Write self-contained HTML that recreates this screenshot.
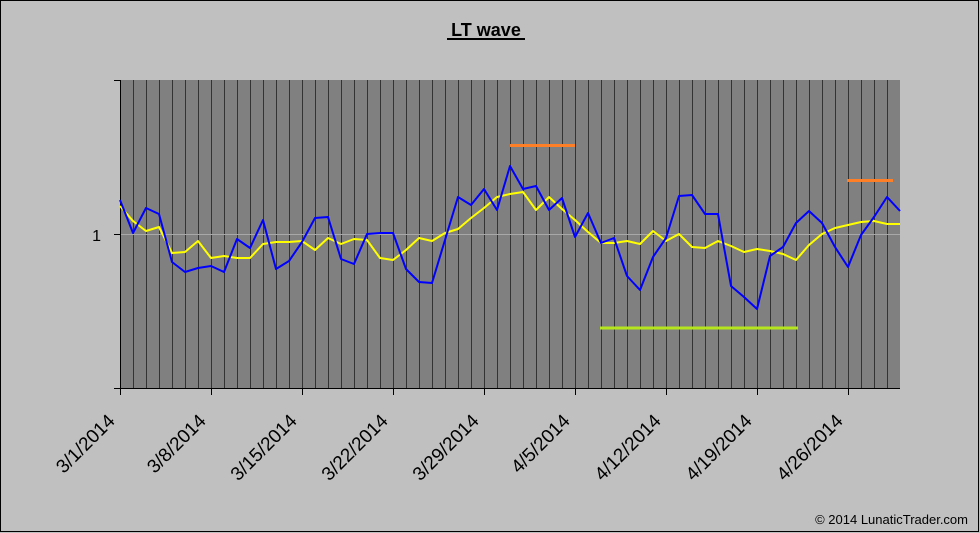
<!DOCTYPE html>
<html><head><meta charset="utf-8"><style>
html,body{margin:0;padding:0;background:#c0c0c0}
svg{display:block}
text{font-family:"Liberation Sans",Arial,sans-serif}
</style></head><body>
<svg width="980" height="533" viewBox="0 0 980 533" xmlns="http://www.w3.org/2000/svg">
<rect x="0.5" y="0.5" width="978" height="531" fill="#c0c0c0" stroke="#000" stroke-width="1"/>
<text x="486" y="36" font-size="18" font-weight="bold" text-anchor="middle" fill="#000">LT wave</text>
<line x1="447" y1="39" x2="525" y2="39" stroke="#000" stroke-width="2"/>
<rect x="120" y="80" width="780" height="308" fill="#808080"/>
<g id="grid" stroke="#333" stroke-width="1"></g>
<line x1="120" y1="234.5" x2="900" y2="234.5" stroke="#a8a8a8" stroke-width="1"/>
<line x1="120.5" y1="80" x2="120.5" y2="389" stroke="#000"/>
<line x1="120" y1="388.5" x2="900" y2="388.5" stroke="#000"/>
<g stroke="#000">
<line x1="114" y1="80.5" x2="120" y2="80.5"/>
<line x1="114" y1="234.5" x2="120" y2="234.5"/>
<line x1="114" y1="388.5" x2="120" y2="388.5"/>
</g>
<g id="xt" stroke="#000"></g>
<text x="101" y="241" font-size="16" text-anchor="end">1</text>
<line x1="510" y1="145.5" x2="575" y2="145.5" stroke="#ff7f27" stroke-width="3"/>
<line x1="847" y1="180.5" x2="893" y2="180.5" stroke="#ff7f27" stroke-width="3"/>
<line x1="600" y1="328" x2="798" y2="328" stroke="#b5e61d" stroke-width="3"/>
<polyline fill="none" stroke="#ffff00" stroke-width="2" stroke-linejoin="round" points="120,206 133,221 146,231 159,227 172,253 185,252 198,241 211,258 224,256 237,258 250,258 263,244 276,242 289,242 302,241 315,250 328,238 341,244 354,239 367,240 380,258 393,260 406,250 419,238 432,241 445,233 458,229 471,218 484,208 497,197 510,194 523,192 536,210 549,197 562,209 575,220 588,232 601,243 614,243 627,241 640,244 653,231 666,241 679,234 692,247 705,248 718,241 731,246 744,252 757,249 770,251 783,254 796,260 809,245 822,234 835,228 848,225 861,222 874,221 887,224 900,224"/>
<polyline fill="none" stroke="#0000ff" stroke-width="2" stroke-linejoin="round" points="120,200 133,233 146,208 159,214 172,262 185,272 198,268 211,266 224,272 237,239 250,248 263,220 276,269 289,261 302,242 315,218 328,217 341,259 354,264 367,234 380,233 393,233 406,269 419,282 432,283 445,240 458,197 471,205 484,189 497,210 510,166 523,189 536,186 549,210 562,198 575,237 588,213 601,243 614,238 627,276 640,290 653,257 666,238 679,196 692,195 705,214 718,214 731,286 744,297 757,309 770,256 783,247 796,223 809,211 822,223 835,247 848,267 861,235 874,217 887,197 900,211"/>
<g id="xl" font-size="19" fill="#000"></g>
<text x="968" y="524" font-size="13" text-anchor="end">© 2014 LunaticTrader.com</text>
<script>
var ns="http://www.w3.org/2000/svg",g=document.getElementById('grid');
for(var i=1;i<60;i++){var x=120+13*i+0.5,l=document.createElementNS(ns,'line');l.setAttribute('x1',x);l.setAttribute('x2',x);l.setAttribute('y1',80);l.setAttribute('y2',388);g.appendChild(l);}
var labs=["3/1/2014","3/8/2014","3/15/2014","3/22/2014","3/29/2014","4/5/2014","4/12/2014","4/19/2014","4/26/2014"];
var xt=document.getElementById('xt'),xl=document.getElementById('xl');
for(var k=0;k<9;k++){var x=120+91*k;var t=document.createElementNS(ns,'line');t.setAttribute('x1',x+0.5);t.setAttribute('x2',x+0.5);t.setAttribute('y1',388);t.setAttribute('y2',395);xt.appendChild(t);
var ax=x-4,ay=422;
var tx=document.createElementNS(ns,'text');tx.setAttribute('x',ax);tx.setAttribute('y',ay);tx.setAttribute('text-anchor','end');tx.setAttribute('transform','rotate(-45 '+ax+' '+ay+')');tx.textContent=labs[k];xl.appendChild(tx);}
</script>
</svg>
</body></html>
